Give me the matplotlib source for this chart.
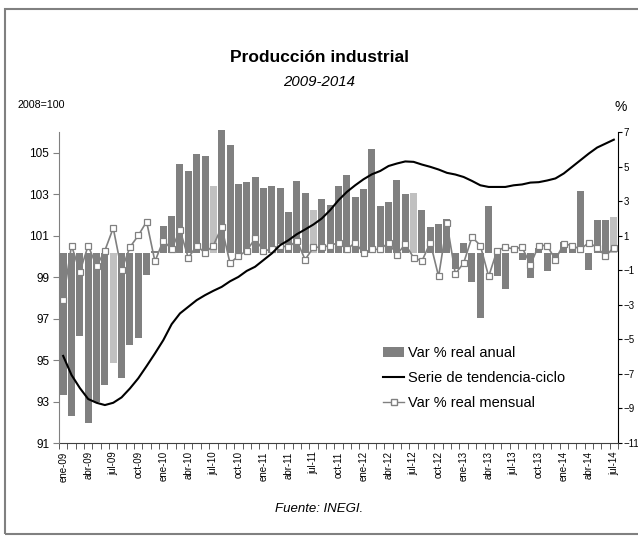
import numpy as np
import matplotlib
matplotlib.use('Agg')
import matplotlib.pyplot as plt
from matplotlib.patches import Rectangle, Patch
from matplotlib.lines import Line2D

plt.rcParams['font.family'] = ['Liberation Sans', 'DejaVu Sans']

# meses ene-09 .. jul-14
meses = ['ene', 'feb', 'mar', 'abr', 'may', 'jun', 'jul', 'ago', 'sep', 'oct', 'nov', 'dic']
etiquetas = [m + '-' + str(a)[2:] for a in range(2009, 2015) for m in meses][:67]

# Var % real anual (eje derecho)
anual = [-8.2, -9.45, -4.8, -9.85, -8.65, -7.65, -6.35, -7.25, -5.3, -4.9, -1.27, 0.1,
         1.58, 2.16, 5.16, 4.74, 5.73, 5.63, 3.88, 7.13, 6.26, 4.0, 4.09, 4.39,
         3.74, 3.86, 3.74, 2.36, 4.15, 3.47, 2.47, 3.1, 2.77, 3.86, 4.5, 3.22,
         3.68, 6.02, 2.69, 2.94, 4.21, 3.41, 3.47, 2.46, 1.52, 1.66, 1.97, -0.92,
         0.58, -1.66, -3.78, 2.69, -1.31, -2.09, 0.0, -0.38, -1.45, 0.28, -1.04, -0.3,
         0.64, 0.45, 3.57, -0.97, 1.93, 1.93, 2.1]

# Serie de tendencia-ciclo (eje izquierdo, 2008=100)
tendencia = [95.2, 94.28, 93.65, 93.12, 92.94, 92.83, 92.94, 93.2, 93.63, 94.12, 94.71, 95.32,
             95.96, 96.73, 97.25, 97.57, 97.89, 98.13, 98.34, 98.53, 98.8, 99.01, 99.3, 99.5,
             99.82, 100.14, 100.54, 100.78, 101.07, 101.3, 101.54, 101.83, 102.23, 102.71, 103.11, 103.43,
             103.72, 103.96, 104.12, 104.36, 104.48, 104.58, 104.56, 104.43, 104.32, 104.19, 104.03, 103.95,
             103.83, 103.64, 103.43, 103.35, 103.35, 103.35, 103.43, 103.47, 103.56, 103.58, 103.66, 103.76,
             104.0, 104.32, 104.64, 104.96, 105.25, 105.44, 105.63]

# Var % real mensual (eje derecho)
mensual = [-2.71, 0.43, -1.09, 0.43, -0.78, 0.14, 1.44, -0.99, 0.33, 1.01, 1.81, -0.49,
           0.72, 0.21, 1.33, -0.29, 0.43, 0.0, 0.43, 1.5, -0.6, -0.17, 0.12, 0.84,
           0.12, 0.21, 0.43, 0.33, 0.72, -0.39, 0.33, 0.33, 0.43, 0.6, 0.21, 0.6,
           0.0, 0.21, 0.21, 0.6, -0.1, 0.51, -0.27, -0.47, 0.6, -1.36, 1.72, -1.21,
           -0.58, 0.92, 0.43, -1.36, 0.14, 0.33, 0.23, 0.33, -0.68, 0.43, 0.43, -0.39,
           0.53, 0.43, 0.21, 0.6, 0.31, -0.18, 0.31]

x = np.arange(len(etiquetas))
colores = ['#C0C0C0' if e.startswith('jul') else '#808080' for e in etiquetas]

fig = plt.figure(figsize=(6.38, 5.36), dpi=100)
ax = fig.add_axes([59/638, (536-443)/536, (618-59)/638, (443-132)/536])
ax2 = ax.twinx()

ax.bar(x, anual, width=0.84, color=colores, zorder=2, clip_on=False)
ax.plot(x, mensual, color='#808080', lw=1.2, marker='s', markersize=5,
        markerfacecolor='white', markeredgecolor='#808080', markeredgewidth=0.9, zorder=4)
ax.set_ylim(-11, 7)
ax.set_yticks(np.arange(-11, 8, 2))
ax.set_xlim(-0.5, len(x) - 0.5)

ax2.plot(x, tendencia, color='black', lw=1.5, zorder=3)
ax2.set_ylim(91, 106)
ax2.set_yticks(np.arange(91, 106, 2))

# eje de porcentajes a la derecha, índice a la izquierda
ax.yaxis.tick_right()
ax2.yaxis.tick_left()

for a in (ax, ax2):
    a.spines['top'].set_visible(False)
    a.patch.set_visible(False)
ax.spines['left'].set_visible(False)
ax2.spines['bottom'].set_visible(False)
ax2.spines['right'].set_visible(False)
ax2.spines['left'].set_color('#808080')
ax.spines['right'].set_color('black')
ax.spines['bottom'].set_color('#404040')

ax.tick_params(axis='y', labelsize=7, length=3, direction='out', pad=1)
ax2.tick_params(axis='y', labelsize=8.5, length=4, direction='out', pad=3, color='#808080')

# ticks del eje x: marcas entre meses, etiquetas cada 3 meses
ax.set_xticks(x[::3])
ax.set_xticklabels(etiquetas[::3], rotation=90, fontsize=7)
ax.set_xticks(np.arange(-0.5, len(x), 1), minor=True)
ax.tick_params(axis='x', which='major', length=0, pad=6)
ax.tick_params(axis='x', which='minor', length=4, direction='out', color='#404040')

handles = [Patch(facecolor='#808080', edgecolor='none'),
           Line2D([], [], color='black', lw=1.5),
           Line2D([], [], color='#808080', lw=1, marker='s', markersize=4.5,
                  markerfacecolor='white', markeredgecolor='#808080')]
ax2.legend(handles, ['Var % real anual', 'Serie de tendencia-ciclo', 'Var % real mensual'],
           loc='upper left', bbox_to_anchor=(0.57, 0.33), frameon=False, fontsize=10.5,
           handlelength=1.4, handletextpad=0.3, labelspacing=0.75, borderaxespad=0)

fig.text(0.5, 1 - 57/536, 'Producción industrial', ha='center', va='center',
         fontsize=12.5, fontweight='bold')
fig.text(0.5, 1 - 82/536, '2009-2014', ha='center', va='center', fontsize=10.8, style='italic')
fig.text(18/638, 1 - 105/536, '2008=100', ha='left', va='center', fontsize=7.7)
fig.text(621/638, 1 - 107/536, '%', ha='center', va='center', fontsize=10)
fig.text(0.5, 1 - 509/536, 'Fuente: INEGI.', ha='center', va='center', fontsize=9.5, style='italic')

# marco gris (el borde derecho queda fuera de la imagen)
fig.patches.append(Rectangle((5/638, 2/536), 650/638, 525/536, transform=fig.transFigure,
                             fill=False, edgecolor='#808080', lw=1.5))

fig.savefig('out.png', dpi=100)
